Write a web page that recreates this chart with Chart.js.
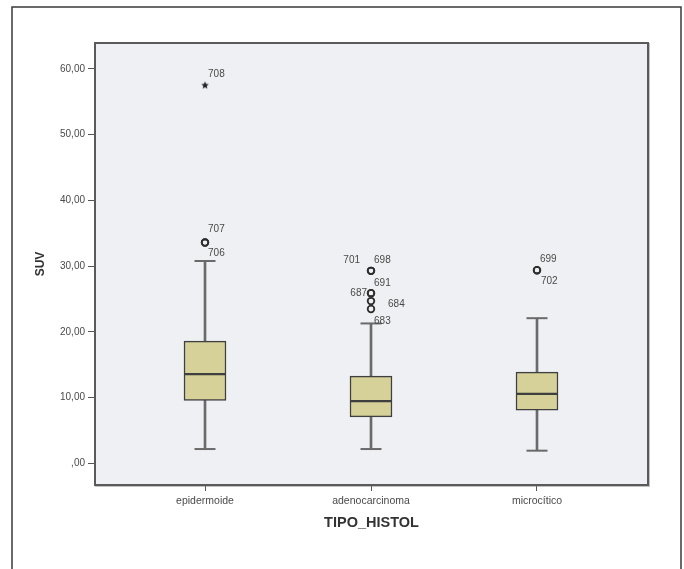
<!DOCTYPE html>
<html>
<head>
<meta charset="utf-8">
<script src="https://cdn.jsdelivr.net/npm/chart.js@4/dist/chart.umd.min.js"></script>
<style>
  html, body { margin: 0; padding: 0; background: #ffffff; }
  #wrap { width: 684px; height: 569px; }
</style>
</head>
<body>
<div id="wrap"><canvas id="chart" width="684" height="569"></canvas></div>
<script>
// SUV by histological type: five-number summaries per group
const categories   = ['epidermoide', 'adenocarcinoma', 'microcítico'];
const whiskerLow   = [2.2, 2.2, 1.95];
const quartile1    = [9.6, 7.1, 8.1];
const medians      = [13.6, 9.5, 10.6];
const quartile3    = [18.6, 13.3, 13.9];
const whiskerHigh  = [30.8, 21.3, 22.1];

// Outliers (circles): group index (1-based), value, case number
const outlierGroup = [1, 1, 2, 2, 2, 2, 2, 2, 3, 3];
const outlierValue = [33.6, 33.6, 29.3, 29.3, 25.9, 25.9, 24.7, 23.5, 29.4, 29.4];
const outlierCase  = ['707', '706', '701', '698', '691', '687', '684', '683', '699', '702'];

// Extreme values (stars)
const extremeGroup = [1];
const extremeValue = [57.5];
const extremeCase  = ['708'];

const yTickValues = [0, 10, 20, 30, 40, 50, 60];

const FONT = '"Liberation Sans", Arial, sans-serif';
const BOX_FILL = '#d6d199';
const BOX_LINE = '#3f3f3f';
const WHISKER = '#6a6a6a';

// small filled five-point star used for extreme values
function makeStar(r) {
  const c = document.createElement('canvas');
  const s = Math.ceil(r * 2 + 2);
  c.width = s; c.height = s;
  const g = c.getContext('2d');
  g.translate(s / 2, s / 2);
  g.beginPath();
  for (let i = 0; i < 10; i++) {
    const rad = i % 2 === 0 ? r : r * 0.45;
    const a = -Math.PI / 2 + i * Math.PI / 5;
    g.lineTo(Math.cos(a) * rad, Math.sin(a) * rad);
  }
  g.closePath();
  g.fillStyle = '#222';
  g.fill();
  return c;
}

const boxes    = categories.map((_, i) => ({ x: i + 1, y: [quartile1[i], quartile3[i]] }));
const lowStem  = categories.map((_, i) => ({ x: i + 1, y: [whiskerLow[i], quartile1[i]] }));
const highStem = categories.map((_, i) => ({ x: i + 1, y: [quartile3[i], whiskerHigh[i]] }));
const caps     = categories.flatMap((_, i) => [{ x: i + 1, y: whiskerLow[i] }, { x: i + 1, y: whiskerHigh[i] }]);
const medianPts = categories.map((_, i) => ({ x: i + 1, y: medians[i] }));
const outlierPts = outlierValue.map((v, i) => ({ x: outlierGroup[i], y: v, id: outlierCase[i] }));
const extremePts = extremeValue.map((v, i) => ({ x: extremeGroup[i], y: v, id: extremeCase[i] }));

// where each case label sits next to its marker: [dx, dy, align]
const labelPlacement = {
  '708': [3, -11, 'left'],
  '707': [3, -13, 'left'],
  '706': [3, 11, 'left'],
  '701': [-11, -11, 'right'],
  '698': [3, -11, 'left'],
  '691': [3, -10, 'left'],
  '687': [-4, 0, 'right'],
  '684': [17, 3, 'left'],
  '683': [3, 12, 'left'],
  '699': [3, -11, 'left'],
  '702': [4, 11, 'left']
};

const framePlugin = {
  id: 'frame',
  beforeDraw(chart) {
    const { ctx, chartArea: a } = chart;
    ctx.save();
    ctx.fillStyle = '#ffffff';
    ctx.fillRect(0, 0, chart.width, chart.height);
    // outer panel frame
    ctx.strokeStyle = '#3a3a3a';
    ctx.lineWidth = 1.5;
    ctx.beginPath();
    ctx.moveTo(12, chart.height);
    ctx.lineTo(12, 7);
    ctx.lineTo(681, 7);
    ctx.lineTo(681, chart.height);
    ctx.stroke();
    // plot background
    ctx.fillStyle = '#eef0f3';
    ctx.fillRect(a.left, a.top, a.right - a.left, a.bottom - a.top);
    ctx.restore();
  },
  afterDatasetsDraw(chart) {
    const { ctx, chartArea: a } = chart;
    ctx.save();
    // plot border with soft shade
    ctx.strokeStyle = 'rgba(120,120,120,0.45)';
    ctx.lineWidth = 1;
    ctx.strokeRect(a.left + 0.5, a.top + 0.5, a.right - a.left + 1, a.bottom - a.top + 1);
    ctx.strokeStyle = '#5a5a5a';
    ctx.lineWidth = 2;
    ctx.strokeRect(a.left, a.top, a.right - a.left, a.bottom - a.top);
    // case labels beside outliers and extremes
    ctx.font = '10px ' + FONT;
    ctx.fillStyle = '#4a4a4a';
    ctx.textBaseline = 'middle';
    chart.data.datasets.forEach((ds, di) => {
      if (!ds.caseLabels) return;
      const meta = chart.getDatasetMeta(di);
      meta.data.forEach((el, j) => {
        const id = ds.data[j].id;
        const p = labelPlacement[id] || [3, -11, 'left'];
        ctx.textAlign = p[2];
        ctx.fillText(id, el.x + p[0], el.y + p[1]);
      });
    });
    ctx.restore();
  }
};

new Chart(document.getElementById('chart'), {
  type: 'bar',
  data: {
    datasets: [
      { type: 'bar', data: boxes, backgroundColor: BOX_FILL, borderColor: BOX_LINE, borderWidth: 1.5,
        borderSkipped: false, barThickness: 42, grouped: false, order: 2 },
      { type: 'bar', data: lowStem, backgroundColor: WHISKER, borderWidth: 0, barThickness: 2, grouped: false, order: 3 },
      { type: 'bar', data: highStem, backgroundColor: WHISKER, borderWidth: 0, barThickness: 2, grouped: false, order: 3 },
      { type: 'scatter', data: caps, pointStyle: 'line', radius: 10.5, borderWidth: 2, borderColor: WHISKER, order: 1 },
      { type: 'scatter', data: medianPts, pointStyle: 'line', radius: 20, borderWidth: 2.2, borderColor: BOX_LINE, order: 1 },
      { type: 'scatter', data: outlierPts, pointStyle: 'circle', radius: 3.3, borderWidth: 1.8,
        borderColor: '#2e2e2e', backgroundColor: 'rgba(0,0,0,0)', caseLabels: true, order: 0 },
      { type: 'scatter', data: extremePts, pointStyle: makeStar(4), radius: 4, caseLabels: true, order: 0 }
    ]
  },
  options: {
    responsive: false,
    animation: false,
    events: [],
    layout: { padding: { left: 0, top: 43, right: 36, bottom: 0 } },
    plugins: { legend: { display: false }, tooltip: { enabled: false } },
    scales: {
      x: {
        type: 'linear',
        offset: false,
        min: 0.3373, max: 3.6687,
        afterBuildTicks(s) { s.ticks = categories.map((_, i) => ({ value: i + 1 })); },
        afterFit(s) { s.height = 84; },
        ticks: {
          autoSkip: false, maxRotation: 0, padding: 4,
          color: '#4a4a4a', font: { family: FONT, size: 10.5 },
          callback: (v) => categories[Math.round(v) - 1]
        },
        grid: { offset: false, drawOnChartArea: false, drawTicks: true, tickLength: 6, tickColor: '#555', tickWidth: 1 },
        border: { display: false },
        title: { display: true, text: 'TIPO_HISTOL', color: '#333', padding: { top: 0, bottom: 37 },
                 font: { family: FONT, size: 14.5, weight: 'bold' } }
      },
      y: {
        type: 'linear',
        min: -3.27, max: 63.95,
        afterBuildTicks(s) { s.ticks = yTickValues.map(v => ({ value: v })); },
        afterFit(s) { s.width = 95; },
        ticks: {
          padding: 3, color: '#4a4a4a', font: { family: FONT, size: 10 },
          callback: (v) => v === 0 ? ',00' : v.toFixed(2).replace('.', ',')
        },
        grid: { drawOnChartArea: false, drawTicks: true, tickLength: 7, tickColor: '#555', tickWidth: 1 },
        border: { display: false },
        title: { display: true, text: 'SUV', color: '#333', padding: { top: 33, bottom: 0 },
                 font: { family: FONT, size: 12, weight: 'bold' } }
      }
    }
  },
  plugins: [framePlugin]
});
</script>
</body>
</html>
